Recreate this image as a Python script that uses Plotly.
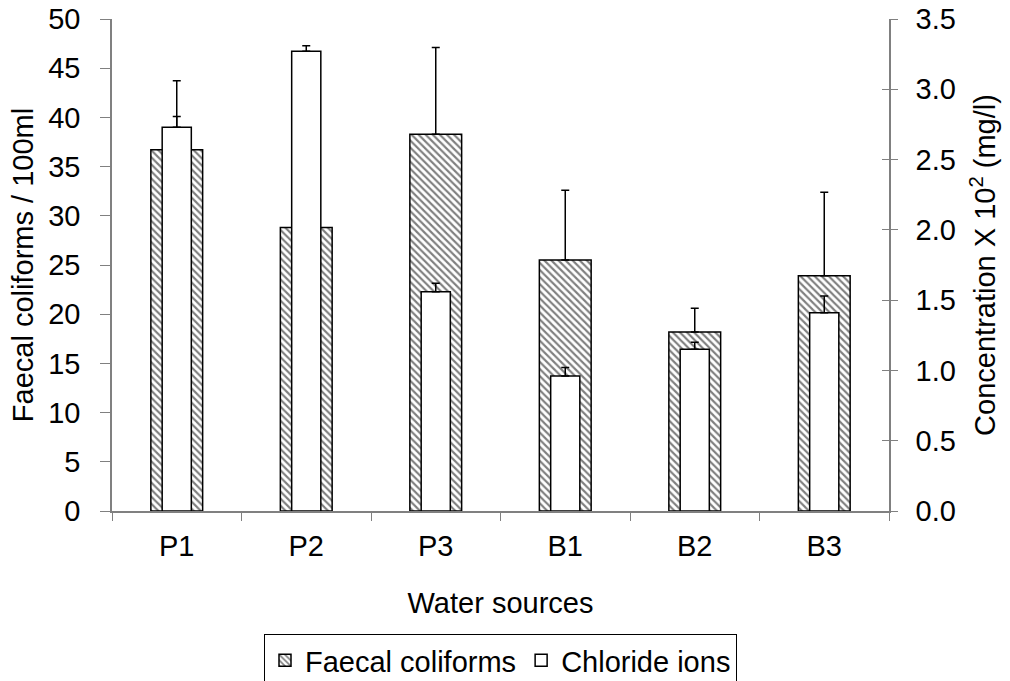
import plotly.graph_objects as go

sources = ["P1", "P2", "P3", "B1", "B2", "B3"]
faecal = [36.7, 28.8, 38.3, 25.5, 18.2, 23.9]
faecal_err = [3.4, 2.0, 8.8, 7.1, 2.4, 8.5]
chloride = [2.73, 3.27, 1.56, 0.96, 1.15, 1.41]
chloride_err = [0.33, 0.04, 0.06, 0.06, 0.05, 0.12]

left_ticks = [0, 5, 10, 15, 20, 25, 30, 35, 40, 45, 50]
right_ticks = [0.0, 0.5, 1.0, 1.5, 2.0, 2.5, 3.0, 3.5]

FONT = "Arial, Liberation Sans, sans-serif"
FS = 29

fig = go.Figure()
fig.add_trace(go.Bar(
    x=sources, y=faecal, name="Faecal coliforms", width=0.40,
    marker=dict(color="white", line=dict(color="black", width=1.5),
                pattern=dict(shape="\\", fgcolor="black", bgcolor="white", size=5, solidity=0.42)),
    error_y=dict(type="data", array=faecal_err, arrayminus=[0]*6, color="black", thickness=1.5, width=4),
    yaxis="y",
))
fig.add_trace(go.Bar(
    x=sources, y=chloride, name="Chloride ions", width=0.225,
    marker=dict(color="white", line=dict(color="black", width=1.5)),
    error_y=dict(type="data", array=chloride_err, arrayminus=[0]*6, color="black", thickness=1.5, width=4),
    yaxis="y2",
))

fig.update_layout(
    width=1010, height=681,
    margin=dict(l=112, r=121, t=19, b=170, autoexpand=False),
    paper_bgcolor="white", plot_bgcolor="white",
    barmode="overlay",
    font=dict(family=FONT, size=FS, color="black"),
    showlegend=True,
    legend=dict(orientation="h", x=0.5, xanchor="center", y=-0.25, yanchor="top",
                bordercolor="black", borderwidth=1, font=dict(size=FS),
                itemwidth=30, tracegroupgap=0),
    xaxis=dict(
        automargin=False,
        showline=True, linecolor="#808080", linewidth=1.5,
        ticks="outside", ticklen=8, tickcolor="#808080", tickwidth=1.2,
        tickson="boundaries", showgrid=False, ticklabelstandoff=8,
        tickfont=dict(size=FS),
        title=dict(text="Water sources", font=dict(size=FS), standoff=32),
    ),
    yaxis=dict(
        automargin=False, ticklabeloverflow="allow",
        range=[0, 50], tickvals=left_ticks, showgrid=False, zeroline=False,
        showline=True, linecolor="#808080", linewidth=1.5,
        ticks="outside", ticklen=10, tickcolor="#808080", tickwidth=1.2,
        ticklabelstandoff=14,
        tickfont=dict(size=FS),
        title=dict(text="Faecal coliforms / 100ml", font=dict(size=FS), standoff=6),
    ),
    yaxis2=dict(
        automargin=False, ticklabeloverflow="allow",
        range=[0, 3.5], tickvals=right_ticks, tickformat=".1f",
        overlaying="y", side="right", showgrid=False, zeroline=False,
        showline=True, linecolor="#808080", linewidth=1.5,
        ticks="outside", ticklen=7, tickcolor="#808080", tickwidth=1.2,
        ticklabelstandoff=12,
        tickfont=dict(size=FS),
        title=dict(text="Concentration X 10<sup>2</sup> (mg/l)", font=dict(size=FS), standoff=20),
    ),
    yaxis3=dict(
        automargin=False,
        range=[0, 3.5], tickvals=right_ticks, overlaying="y", side="right",
        showgrid=False, zeroline=False, showline=False, showticklabels=False,
        ticks="inside", ticklen=7, tickcolor="#808080", tickwidth=1.2,
    ),
)
# invisible trace to activate yaxis3 (inside tick marks for crossing ticks)
fig.add_trace(go.Scatter(x=[sources[0]], y=[0], yaxis="y3", mode="markers",
                         marker=dict(opacity=0), showlegend=False, hoverinfo="skip"))

fig.write_html("out.html", config={"displayModeBar": False},
               post_script="document.body.style.margin='0px';")
